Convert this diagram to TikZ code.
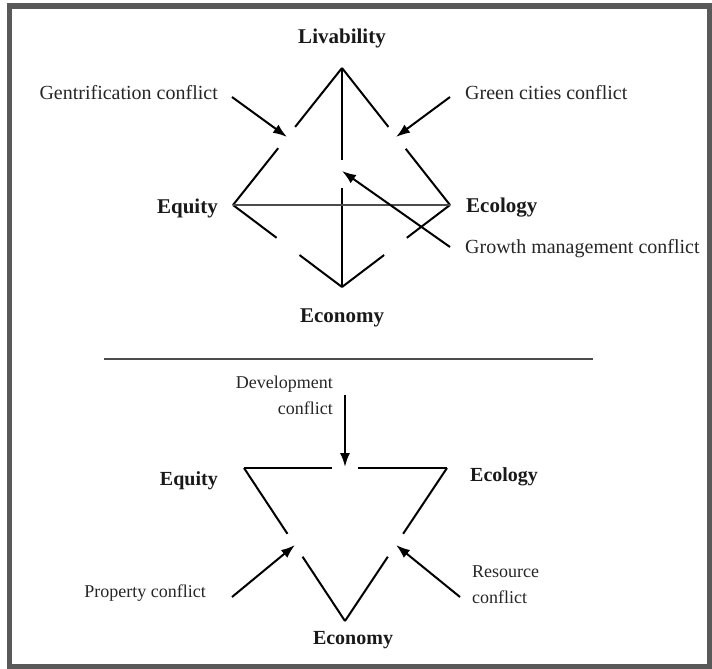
\documentclass[tikz,border=0pt]{standalone}
\usepackage{fontspec}
\setmainfont{Liberation Serif}
\usetikzlibrary{calc,arrows.meta}

\begin{document}
\begin{tikzpicture}[x=1pt,y=-1pt]
    \tikzstyle{border box}=[draw=black!65,line width=5.5pt]
    \tikzstyle{side}=[draw=black,line width=2pt]
    \tikzstyle{midline}=[draw=black!70,line width=1.4pt]
    \tikzstyle{conflict}=[draw=black,line width=2pt,-{Latex[length=14pt,width=10pt]}]
    \tikzstyle{pole}=[font=\fontsize{21}{24}\selectfont\bfseries,text=black!90,inner sep=0pt]
    \tikzstyle{annot}=[font=\fontsize{20}{24}\selectfont,text=black!85,inner sep=0pt]
    \tikzstyle{small pole}=[pole,font=\fontsize{20}{23}\selectfont\bfseries]
    \tikzstyle{small annot}=[annot,font=\fontsize{18}{26}\selectfont]

    \useasboundingbox (0,0) rectangle (712,669);
    \draw[border box] (9.5,6) rectangle (709.5,666.5);

    % Upper figure: the four corners
    \coordinate (L) at (342,68);
    \coordinate (W) at (233,205);
    \coordinate (R) at (450,205);
    \coordinate (B) at (342,287);
    % gap ends on the broken sides
    \coordinate (LW-1) at ($(L)!0.43!(W)$);
    \coordinate (LW-2) at ($(L)!0.585!(W)$);
    \coordinate (LR-1) at ($(L)!0.43!(R)$);
    \coordinate (LR-2) at ($(L)!0.59!(R)$);
    \coordinate (LB-1) at ($(L)!0.42!(B)$);
    \coordinate (LB-2) at ($(L)!0.55!(B)$);
    \coordinate (WB-1) at ($(W)!0.40!(B)$);
    \coordinate (WB-2) at ($(W)!0.61!(B)$);
    \coordinate (RB-1) at ($(R)!0.40!(B)$);
    \coordinate (RB-2) at ($(R)!0.61!(B)$);

    \path[side] (L) edge (LW-1) (LW-2) edge (W);
    \path[side] (L) edge (LR-1) (LR-2) edge (R);
    \path[side] (L) edge (LB-1) (LB-2) edge (B);
    \path[side] (W) edge (WB-1) (WB-2) edge (B);
    \path[side] (R) edge (RB-1) (RB-2) edge (B);
    \path[midline] (W) edge (R);

    % Annotate the upper figure
    \node[pole] (livability) at (342,38) {Livability};
    \node[annot,anchor=east] (gentrification) at (218,93) {Gentrification conflict};
    \node[annot,anchor=west] (green) at (465,93) {Green cities conflict};
    \node[pole,anchor=east] (equity) at (218,208) {Equity};
    \node[pole,anchor=west] (ecology) at (466,208) {Ecology};
    \node[annot,anchor=west] (growth) at (465,249) {Growth management conflict};
    \node[pole] (economy) at (342,318) {Economy};

    \coordinate (gen-tail) at (232,97);
    \coordinate (gen-head) at (287,137);
    \coordinate (green-tail) at (450,97);
    \coordinate (green-head) at (396,137);
    \coordinate (growth-tail) at (450,247);
    \coordinate (growth-head) at (342,171);
    \path (gen-tail) edge[conflict] (gen-head);
    \path (green-tail) edge[conflict] (green-head);
    \path (growth-tail) edge[conflict] (growth-head);

    % Separator
    \coordinate (sep-1) at (104,359);
    \coordinate (sep-2) at (593,359);
    \path[midline] (sep-1) edge (sep-2);

    % Lower figure: the three corners
    \coordinate (P) at (244,468);
    \coordinate (Q) at (447,468);
    \coordinate (C) at (345,621);
    \coordinate (PQ-1) at ($(P)!0.433!(Q)$);
    \coordinate (PQ-2) at ($(P)!0.56!(Q)$);
    \coordinate (PC-1) at ($(P)!0.43!(C)$);
    \coordinate (PC-2) at ($(P)!0.58!(C)$);
    \coordinate (QC-1) at ($(Q)!0.43!(C)$);
    \coordinate (QC-2) at ($(Q)!0.58!(C)$);

    \path[side] (P) edge (PQ-1) (PQ-2) edge (Q);
    \path[side] (P) edge (PC-1) (PC-2) edge (C);
    \path[side] (Q) edge (QC-1) (QC-2) edge (C);

    % Annotate the lower figure
    \node[small annot,anchor=east,align=right] (development) at (333,395) {Development\\conflict};
    \node[small pole,anchor=east] (equity-2) at (218,481) {Equity};
    \node[small pole,anchor=west] (ecology-2) at (470,477) {Ecology};
    \node[small annot,anchor=east] (property) at (206,593) {Property conflict};
    \node[small annot,anchor=west,align=left] (resource) at (472,585) {Resource\\conflict};
    \node[small pole] (economy-2) at (353,640) {Economy};

    \coordinate (dev-tail) at (345,395);
    \coordinate (dev-head) at (345,467);
    \coordinate (prop-tail) at (232,597);
    \coordinate (prop-head) at (295,545);
    \coordinate (res-tail) at (460,597);
    \coordinate (res-head) at (396,545);
    \path (dev-tail) edge[conflict] (dev-head);
    \path (prop-tail) edge[conflict] (prop-head);
    \path (res-tail) edge[conflict] (res-head);
\end{tikzpicture}
\end{document}
